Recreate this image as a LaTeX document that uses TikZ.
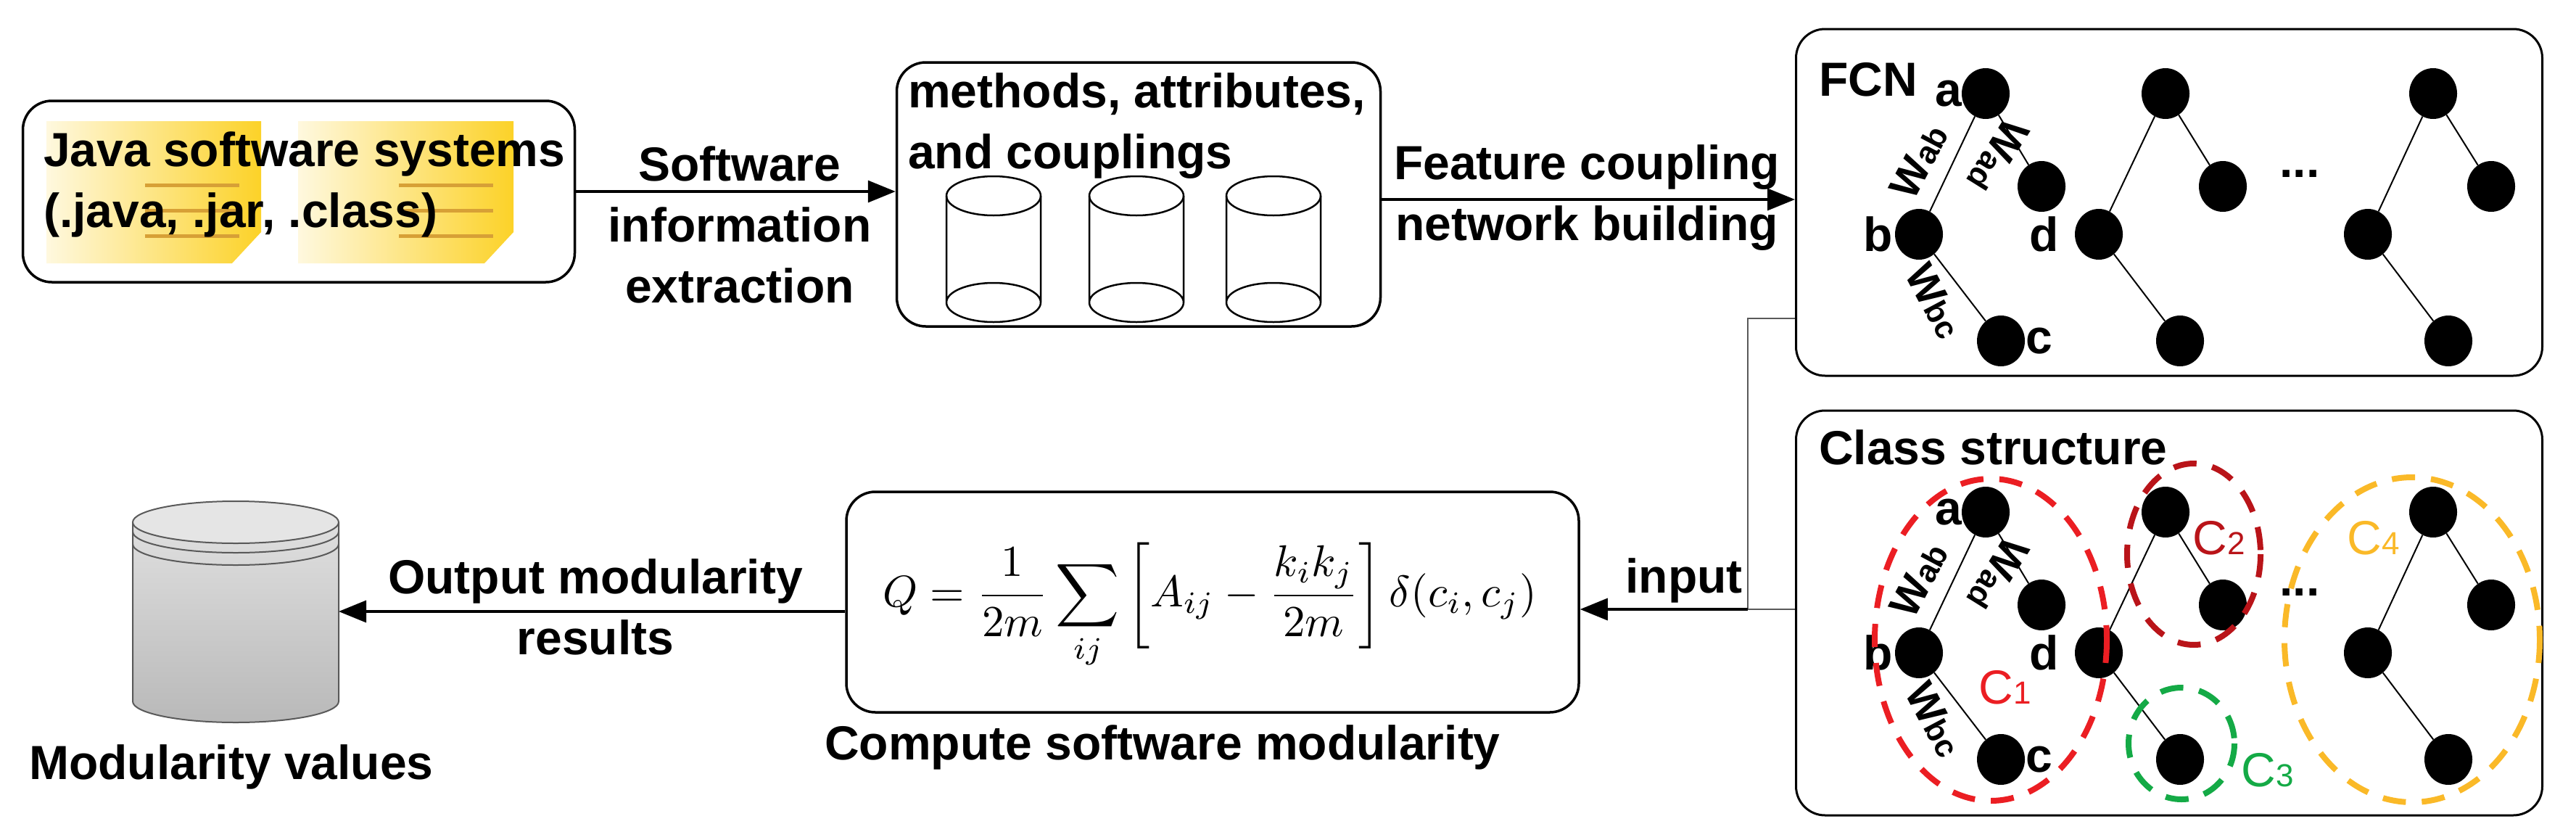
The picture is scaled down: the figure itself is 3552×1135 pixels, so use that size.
\documentclass[tikz,border=0pt]{standalone}
\usepackage{fontspec}
\setmainfont{Liberation Sans}
\usetikzlibrary{arrows.meta,shapes.geometric}
\definecolor{cred}{RGB}{235,30,35}
\definecolor{cdred}{RGB}{185,20,25}
\definecolor{cgreen}{RGB}{20,170,70}
\definecolor{corange}{RGB}{250,185,40}
\definecolor{sticky}{RGB}{252,210,40}
\begin{document}
\begin{tikzpicture}[x=1pt,y=-1pt,
  box/.style={draw,line width=3.5pt,rounded corners=40pt,inner sep=0pt},
  arr/.style={line width=3.5pt,-{Triangle[length=38pt,width=30pt]}},
  lbl/.style={font=\fontsize{66}{84}\selectfont\bfseries,align=center,inner sep=0pt},
  nd/.style={ellipse,fill=black,minimum width=66pt,minimum height=70pt,inner sep=0pt},
  edge/.style={line width=2pt},
  let/.style={font=\fontsize{66}{70}\selectfont\bfseries,inner sep=0pt},
  wl/.style={font=\fontsize{58}{60}\selectfont\bfseries,inner sep=0pt},
  cyl/.style={line width=2.5pt},
  dsh/.style={line width=8pt,dash pattern=on 32pt off 22pt},
  cl/.style={font=\fontsize{66}{70}\selectfont,inner sep=0pt}]
\useasboundingbox (0,0) rectangle (3552,1135);
% Java box
\node[box,minimum width=761pt,minimum height=250pt] (java) at (412,264) {};
\shade[left color=sticky!15,right color=sticky] (64,167) -- (360,167) -- (360,320) -- (320,363) -- (64,363) -- cycle;
\shade[left color=sticky!15,right color=sticky] (411,167) -- (708,167) -- (708,320) -- (668,363) -- (411,363) -- cycle;
\foreach \x in {90,440}{\foreach \yy in {255,290,325}{\draw[brown!60!sticky,line width=5pt] (\x+110,\yy) -- (\x+240,\yy);}}
\node[lbl,anchor=west,align=left] (jt) at (60,254) {Java software systems\\(.java, .jar, .class)};
% middle box
\node[box,minimum width=667pt,minimum height=364pt] (mid) at (1570,268) {};
\node[lbl,anchor=north west,align=left] (mt) at (1252,100) {methods, attributes,\\and couplings};
\foreach \cx in {1370,1567,1756}{
  \draw[cyl] (\cx-65,270) -- (\cx-65,417) arc[start angle=180,end angle=360,x radius=65,y radius=27] -- (\cx+65,270);
  \draw[cyl] (\cx,270) ellipse[x radius=65,y radius=27];
  \draw[cyl] (\cx-65,417) arc[start angle=180,end angle=0,x radius=65,y radius=27];
}
% FCN box
\node[box,line width=3pt,minimum width=1029pt,minimum height=478pt] (fcn) at (2991,279) {};
\node[let,anchor=west] (fcnt) at (2508,110) {FCN};
% class box
\node[box,line width=3pt,minimum width=1029pt,minimum height=558pt] (cls) at (2991,845) {};
\node[let,anchor=west] (clst) at (2508,617) {Class structure};
% trees
\foreach \dy/\p in {0/f,577/k}{
  \node[nd] (\p a) at (2738,129+\dy) {};
  \node[nd] (\p d) at (2815,257+\dy) {};
  \node[nd] (\p b) at (2646,323+\dy) {};
  \node[nd] (\p c) at (2759,470+\dy) {};
  \node[nd] (\p e) at (2986,129+\dy) {};
  \node[nd] (\p f) at (3065,257+\dy) {};
  \node[nd] (\p g) at (2894,323+\dy) {};
  \node[nd] (\p h) at (3006,470+\dy) {};
  \node[nd] (\p i) at (3355,129+\dy) {};
  \node[nd] (\p j) at (3435,257+\dy) {};
  \node[nd] (\p k) at (3265,323+\dy) {};
  \node[nd] (\p l) at (3376,470+\dy) {};
  \draw[edge] (\p a) -- (\p b); \draw[edge] (\p a) -- (\p d); \draw[edge] (\p b) -- (\p c);
  \draw[edge] (\p e) -- (\p g); \draw[edge] (\p e) -- (\p f); \draw[edge] (\p g) -- (\p h);
  \draw[edge] (\p i) -- (\p k); \draw[edge] (\p i) -- (\p j); \draw[edge] (\p k) -- (\p l);
  \node[let] (\p la) at (2687,129+\dy) {a};
  \node[let] (\p lb) at (2590,323+\dy) {b};
  \node[let] (\p ld) at (2819,323+\dy) {d};
  \node[let] (\p lc) at (2812,470+\dy) {c};
  \node[wl,rotate=62] (\p wab) at (2646,222+\dy) {W\fontsize{44}{46}\selectfont ab};
  \node[wl,rotate=-122] (\p wad) at (2755,215+\dy) {W\fontsize{44}{46}\selectfont ad};
  \node[wl,rotate=-62] (\p wbc) at (2668,415+\dy) {W\fontsize{44}{46}\selectfont bc};
  \node[let] (\p dots) at (3171,240+\dy) {...};
}
% clusters
\draw[dsh,cred] (2745,882) ellipse[x radius=160,y radius=222];
\draw[dsh,cdred] (3025,764) ellipse[x radius=92,y radius=125];
\draw[dsh,cgreen] (3008,1025) ellipse[x radius=73,y radius=77];
\draw[dsh,corange] (3326,882) ellipse[x radius=176,y radius=224];
\node[cl,text=cred] (c1) at (2765,948) {C\fontsize{44}{46}\selectfont 1};
\node[cl,text=cdred] (c2) at (3060,742) {C\fontsize{44}{46}\selectfont 2};
\node[cl,text=cgreen] (c3) at (3127,1062) {C\fontsize{44}{46}\selectfont 3};
\node[cl,text=corange] (c4) at (3273,742) {C\fontsize{44}{46}\selectfont 4};
% formula box
\node[box,minimum width=1010pt,minimum height=304pt] (form) at (1672,830) {};
\node[inner sep=0pt] (ft) at (1668,835) {\scalebox{6.1}{$\displaystyle Q=\frac{1}{2m}\sum_{ij}\left[A_{ij}-\frac{k_ik_j}{2m}\right]\delta(c_i,c_j)$}};
\node[lbl] (comp) at (1603,1030) {Compute software modularity};
% gray db
\shade[top color=gray!25,bottom color=gray!55] (183,720) -- (183,967) arc[start angle=180,end angle=0,x radius=142,y radius=29] -- (467,720) -- cycle;
\draw[line width=2pt,gray!70!black] (183,720) -- (183,967) arc[start angle=180,end angle=0,x radius=142,y radius=29] -- (467,720);
\fill[gray!20] (325,720) ellipse[x radius=142,y radius=29];
\draw[line width=2pt,gray!70!black] (325,720) ellipse[x radius=142,y radius=29];
\draw[line width=2pt,gray!70!black] (183,733) arc[start angle=180,end angle=0,x radius=142,y radius=29];
\draw[line width=2pt,gray!70!black] (183,750) arc[start angle=180,end angle=0,x radius=142,y radius=29];
\coordinate (db) at (467,843);
\node[lbl] (mv) at (319,1057) {Modularity values};
% connectors
\draw[arr] (java.east) -- (java.east -| mid.west);
\node[lbl] (l1) at (1020,310) {Software\\information\\extraction};
\draw[arr] (mid.east |- 0,275) -- (fcn.west |- 0,275);
\node[lbl] (l2) at (2188,273) {Feature coupling\\network building};
\coordinate (j) at (2410,840);
\draw[line width=2pt,gray!70!black] (fcn.west |- 0,439) -| (j) -- (cls.west |- j);
\draw[arr] (j) -- (form.east |- j);
\node[lbl] (l3) at (2322,800) {input};
\draw[arr] (form.west |- db) -- (db);
\node[lbl] (l4) at (821,837) {Output modularity\\results};
\end{tikzpicture}
\end{document}
